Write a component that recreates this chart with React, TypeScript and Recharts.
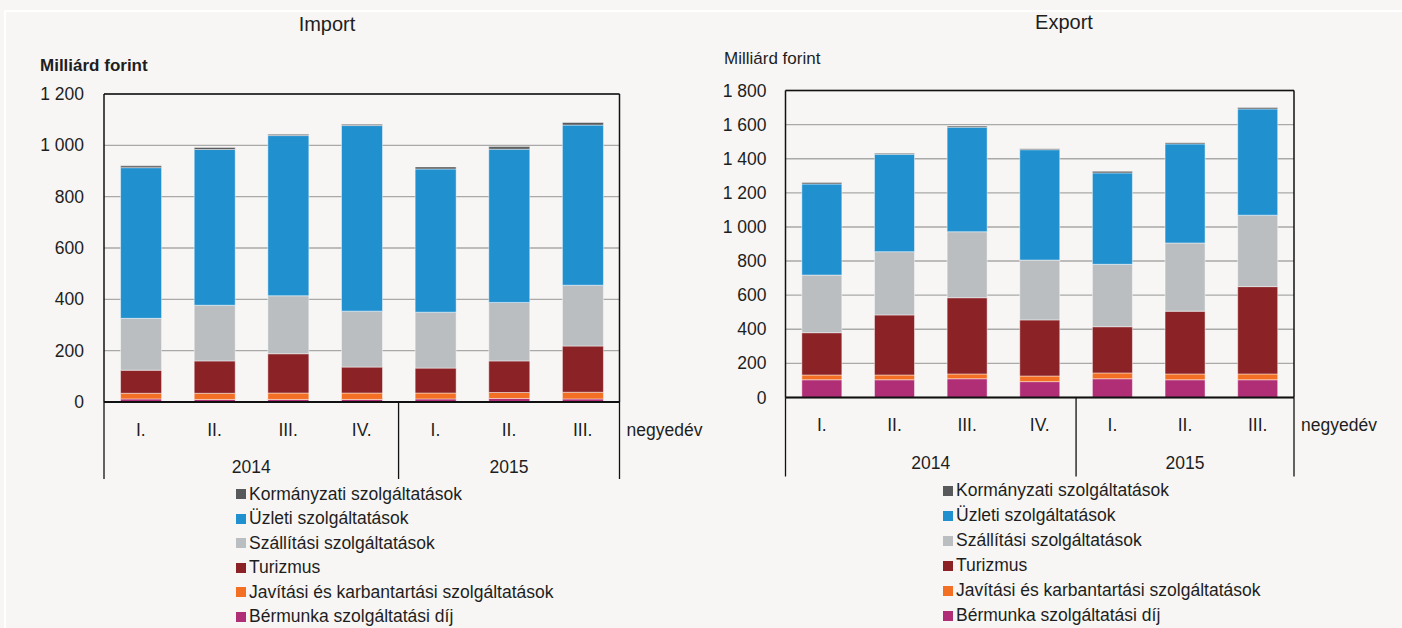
import React from 'react';
import { BarChart, Bar, XAxis, YAxis, CartesianGrid, Legend } from 'recharts';

const quarters = ['I.', 'II.', 'III.', 'IV.', 'I.', 'II.', 'III.'];
const years = ['2014', '2014', '2014', '2014', '2015', '2015', '2015'];

// Import (Milliárd forint)
const importBermunka = [12, 10, 10, 10, 12, 14, 12];
const importJavitasi = [22, 24, 25, 25, 23, 23, 26];
const importTurizmus = [90, 126, 153, 101, 97, 123, 180];
const importSzallitasi = [202, 217, 226, 218, 218, 228, 237];
const importUzleti = [587, 607, 624, 723, 558, 597, 624];
const importKormanyzati = [7, 8, 5, 5, 8, 10, 10];

// Export (Milliárd forint)
const exportBermunka = [104, 104, 110, 93, 110, 104, 104];
const exportJavitasi = [28, 28, 28, 33, 34, 34, 34];
const exportTurizmus = [248, 352, 447, 329, 271, 368, 512];
const exportSzallitasi = [338, 371, 387, 351, 366, 400, 419];
const exportUzleti = [534, 571, 613, 647, 536, 581, 623];
const exportKormanyzati = [8, 6, 7, 6, 9, 7, 8];

const importTicks = [0, 200, 400, 600, 800, 1000, 1200];
const exportTicks = [0, 200, 400, 600, 800, 1000, 1200, 1400, 1600, 1800];

const SERIES = [
  { key: 'bermunka', name: 'Bérmunka szolgáltatási díj', color: '#b02e76' },
  { key: 'javitasi', name: 'Javítási és karbantartási szolgáltatások', color: '#f26f23' },
  { key: 'turizmus', name: 'Turizmus', color: '#8b2226' },
  { key: 'szallitasi', name: 'Szállítási szolgáltatások', color: '#babec1' },
  { key: 'uzleti', name: 'Üzleti szolgáltatások', color: '#2190cf' },
  { key: 'kormanyzati', name: 'Kormányzati szolgáltatások', color: '#58595b' },
];

const FONT = '"Liberation Sans", Arial, Helvetica, sans-serif';
const TEXT = '#1e1e1e';
const BG = '#f7f6f4';

const buildData = (b: number[], j: number[], t: number[], s: number[], u: number[], k: number[]) =>
  quarters.map((q, i) => ({
    key: `${years[i]} ${q}`,
    bermunka: b[i],
    javitasi: j[i],
    turizmus: t[i],
    szallitasi: s[i],
    uzleti: u[i],
    kormanyzati: k[i],
  }));

const importData = buildData(importBermunka, importJavitasi, importTurizmus, importSzallitasi, importUzleti, importKormanyzati);
const exportData = buildData(exportBermunka, exportJavitasi, exportTurizmus, exportSzallitasi, exportUzleti, exportKormanyzati);

const fmt = (v: number) => (v >= 1000 ? `${Math.floor(v / 1000)} ${String(v % 1000).padStart(3, '0')}` : String(v));

const YTick = (props: any) => {
  const { x, y, payload } = props;
  return (
    <text x={x} y={y} textAnchor="end" dominantBaseline="central" fontFamily={FONT} fontSize={17.5} fill={TEXT}>
      {fmt(Number(payload.value))}
    </text>
  );
};

type XTickOpts = { plotW: number; qDy: number; yearDy: number; lineLen: number };

const makeXTick = (opts: XTickOpts) => (props: any) => {
  const { x, y, index } = props;
  const n = quarters.length;
  const bw = opts.plotW / n;
  const left = x - bw / 2;
  const right = x + bw / 2;
  const first = index === 0 || years[index] !== years[index - 1];
  const last = index === n - 1;
  let groupLen = 0;
  if (first) {
    for (let j = index; j < n && years[j] === years[index]; j++) groupLen++;
  }
  const textProps = { fontFamily: FONT, fontSize: 17.5, fill: TEXT, dominantBaseline: 'central' as const };
  return (
    <g>
      <text x={x} y={y + opts.qDy} textAnchor="middle" {...textProps}>
        {quarters[index]}
      </text>
      {first && <line x1={left} x2={left} y1={y} y2={y + opts.lineLen} stroke="#111" strokeWidth={1.3} />}
      {first && (
        <text x={left + (groupLen * bw) / 2} y={y + opts.yearDy} textAnchor="middle" {...textProps}>
          {years[index]}
        </text>
      )}
      {last && <line x1={right} x2={right} y1={y} y2={y + opts.lineLen} stroke="#111" strokeWidth={1.3} />}
      {last && (
        <text x={right + 7} y={y + opts.qDy} textAnchor="start" {...textProps}>
          negyedév
        </text>
      )}
    </g>
  );
};

const makeLegend = (rowH: number) => (props: any) => {
  const payload: any[] = props.payload || [];
  const order = SERIES.map((s) => s.key).reverse();
  const items = order.map((k) => {
    const p = payload.find((it) => it.dataKey === k);
    const s = SERIES.find((it) => it.key === k)!;
    return { name: p ? p.value : s.name, color: p ? p.color : s.color };
  });
  return (
    <div style={{ fontFamily: FONT, fontSize: 17.5, color: TEXT }}>
      {items.map((it) => (
        <div key={it.name} style={{ display: 'flex', alignItems: 'center', height: rowH, whiteSpace: 'nowrap' }}>
          <span style={{ display: 'inline-block', width: 10, height: 10, background: it.color, marginRight: 3 }} />
          <span>{it.name}</span>
        </div>
      ))}
    </div>
  );
};

type PanelProps = {
  data: any[];
  ticks: number[];
  width: number;
  height: number;
  plot: { left: number; top: number; right: number; bottom: number };
  tickGap: number;
  xOpts: XTickOpts;
  legendPos: { left: number; top: number };
  legendRow: number;
};

const Panel = ({ data, ticks, width, height, plot, tickGap, xOpts, legendPos, legendRow }: PanelProps) => (
  <BarChart
    width={width}
    height={height}
    data={data}
    margin={{ top: plot.top - 1, left: plot.left - 1, right: width - plot.right - 1, bottom: height - plot.bottom - 1 }}
    barCategoryGap="22.5%"
  >
    <CartesianGrid vertical={false} stroke="#a9a9a9" strokeWidth={1.4} />
    <XAxis
      dataKey="key"
      interval={0}
      height={1}
      tickSize={0}
      tickMargin={0}
      tickLine={false}
      axisLine={{ stroke: '#111', strokeWidth: 2 }}
      tick={makeXTick(xOpts)}
    />
    <XAxis xAxisId="top" dataKey="key" orientation="top" height={1} tick={false} tickLine={false} axisLine={{ stroke: '#111', strokeWidth: 1.5 }} />
    <YAxis
      domain={[0, ticks[ticks.length - 1]]}
      ticks={ticks}
      interval={0}
      width={1}
      tickSize={0}
      tickMargin={tickGap}
      tickLine={false}
      axisLine={{ stroke: '#111', strokeWidth: 1.5 }}
      tick={YTick}
    />
    <YAxis yAxisId="r" orientation="right" width={1} tick={false} tickLine={false} axisLine={{ stroke: '#111', strokeWidth: 1.5 }} />
    {SERIES.map((s) => (
      <Bar
        key={s.key}
        dataKey={s.key}
        name={s.name}
        stackId="a"
        fill={s.color}
        stroke="#ffffff"
        strokeOpacity={0.45}
        strokeWidth={1}
        isAnimationActive={false}
      />
    ))}
    <Legend
      layout="vertical"
      align="center"
      verticalAlign="middle"
      content={makeLegend(legendRow)}
      wrapperStyle={{ position: 'absolute', left: legendPos.left, top: legendPos.top, width: 'auto', height: 'auto' }}
    />
  </BarChart>
);

export default function App() {
  return (
    <div style={{ position: 'absolute', left: 0, top: 0, width: 1402, height: 628, background: BG, overflow: 'hidden', fontFamily: FONT, color: TEXT }}>
      <div style={{ position: 'absolute', left: 4, top: 10, width: 1400, height: 620, borderTop: '2px solid #ffffff', borderLeft: '2px solid #ffffff' }} />

      <div style={{ position: 'absolute', left: 0, top: 0 }}>
        <Panel
          data={importData}
          ticks={importTicks}
          width={720}
          height={628}
          plot={{ left: 104, top: 94, right: 619.5, bottom: 402 }}
          tickGap={20}
          xOpts={{ plotW: 619.5 - 104, qDy: 28, yearDy: 65, lineLen: 77 }}
          legendPos={{ left: 236, top: 482 }}
          legendRow={24.5}
        />
      </div>
      <div style={{ position: 'absolute', left: 700, top: 0 }}>
        <Panel
          data={exportData}
          ticks={exportTicks}
          width={702}
          height={628}
          plot={{ left: 85.5, top: 90.5, right: 594, bottom: 397.5 }}
          tickGap={19}
          xOpts={{ plotW: 594 - 85.5, qDy: 27.5, yearDy: 65.5, lineLen: 79 }}
          legendPos={{ left: 243, top: 478 }}
          legendRow={25}
        />
      </div>

      <div style={{ position: 'absolute', left: 227, width: 200, top: 12, textAlign: 'center', fontSize: 20, lineHeight: '24px' }}>Import</div>
      <div style={{ position: 'absolute', left: 964, width: 200, top: 10, textAlign: 'center', fontSize: 20, lineHeight: '24px' }}>Export</div>
      <div style={{ position: 'absolute', left: 40, top: 56, fontSize: 17, lineHeight: '20px', fontWeight: 'bold' }}>Milliárd forint</div>
      <div style={{ position: 'absolute', left: 724, top: 49, fontSize: 17, lineHeight: '20px' }}>Milliárd forint</div>
    </div>
  );
}
